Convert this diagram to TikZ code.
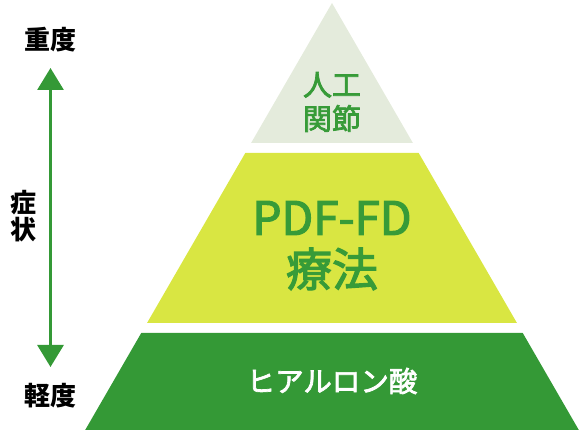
\documentclass[tikz,border=0pt]{standalone}
\usepackage{fontspec}
\setmainfont{Noto Sans CJK JP}
\newfontfamily\cjkm[FakeBold=2.5]{Noto Sans CJK JP}
\usetikzlibrary{arrows.meta}
\definecolor{topc}{HTML}{E4EBDC}
\definecolor{midc}{HTML}{D9E642}
\definecolor{botc}{HTML}{349936}
\definecolor{txtg}{HTML}{379B38}
\tikzset{
  lvl/.style={inner sep=0pt, anchor=center, align=center},
  side/.style={inner sep=0pt, anchor=center, font=\bfseries\fontsize{26}{26}\selectfont, text=black},
}
\begin{document}
\begin{tikzpicture}[x=1pt,y=-1pt]
\useasboundingbox (0,0) rectangle (579,430);
% pyramid layers (apex (332,3), half-width slope 0.578)
\fill[topc] (332,3) -- ({332+0.578*140},143) -- ({332-0.578*140},143) -- cycle;
\fill[midc] ({332-0.578*150},153) -- ({332+0.578*150},153) -- ({332+0.578*320},323) -- ({332-0.578*320},323) -- cycle;
\fill[botc] ({332-0.578*330},333) -- ({332+0.578*330},333) -- ({332+0.578*427},430) -- ({332-0.578*427},430) -- cycle;
% labels in the pyramid
\node[lvl, text=txtg, font=\cjkm\fontsize{29}{36}\selectfont] (top) at (332,102) {人工\\[-2pt]関節};
\node[lvl, text=txtg, font=\cjkm\fontsize{46}{46}\selectfont] (pdf) at (332,218) {PDF-FD};
\node[lvl, text=txtg, font=\cjkm\fontsize{46}{46}\selectfont] (ryo) at (332,269) {療法};
\node[lvl, text=white, font=\cjkm\fontsize{28.5}{28.5}\selectfont] (hya) at (332,381) {ヒアルロン酸};
% side axis
\node[side] (heavy) at (50.5,40) {重度};
\node[side] (light) at (50.5,396) {軽度};
\node[side] (sym1) at (23,203) {症};
\node[side] (sym2) at (23,230) {状};
\coordinate (atop) at (50.5,68);
\coordinate (abot) at (50.5,367);
\draw[botc, line width=3pt, {Triangle[length=22pt,width=26pt]}-{Triangle[length=22pt,width=26pt]}] (atop) -- (abot);
\end{tikzpicture}
\end{document}
